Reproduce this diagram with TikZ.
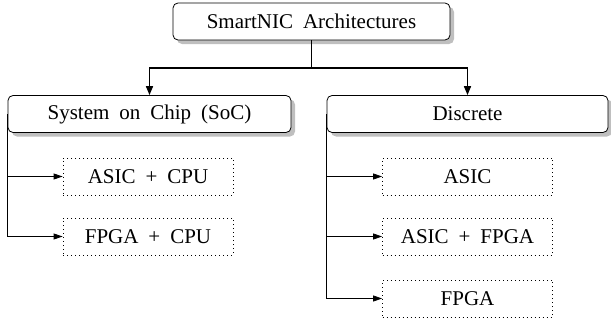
\documentclass[tikz,border=0pt]{standalone}
\usepackage{fontspec}
\setmainfont{Liberation Serif}[WordSpace=1.9]
\usetikzlibrary{shadows,arrows.meta}
\begin{document}
\begin{tikzpicture}[x=1pt,y=-1pt,
  catbox/.style={draw, rounded corners=5pt, fill=white, line width=0.8pt,
    drop shadow={shadow xshift=4pt, shadow yshift=-4pt, fill=black!25, opacity=1},
    minimum height=37pt, inner sep=0pt, font=\fontsize{21}{25}\selectfont},
  leafbox/.style={draw, line width=0.8pt, dash pattern=on 0.8pt off 3.2pt,
    minimum width=170pt, minimum height=37pt,
    inner sep=0pt, font=\fontsize{21}{25}\selectfont},
  treeline/.style={line width=1.6pt, -{Triangle[length=9pt,width=7pt]}},
  subline/.style={line width=0.8pt, -{Triangle[length=9pt,width=6pt]}}]
\useasboundingbox (0,0) rectangle (611,324);
\node[catbox, minimum width=277pt] (top) at (311.5,21.5) {SmartNIC Architectures};
\node[catbox, minimum width=283pt] (soc) at (149.5,114) {System on Chip (SoC)};
\node[catbox, minimum width=281pt] (disc) at (467.5,114) {Discrete};
\node[leafbox] (asiccpu) at (148,176.5) {ASIC + CPU};
\node[leafbox] (fpgacpu) at (148,236.5) {FPGA + CPU};
\node[leafbox] (asic) at (467.5,176.5) {ASIC};
\node[leafbox] (asicfpga) at (467.5,236.5) {ASIC + FPGA};
\node[leafbox] (fpga) at (467.5,298.5) {FPGA};
\coordinate (j) at (311.5,68);
\draw[line width=1.6pt] (top.south) -- (j);
\draw[treeline] (j) -| (soc.north);
\draw[treeline] (j) -| (disc.north);
\draw[subline] (soc.west) |- (asiccpu.west);
\draw[subline] (soc.west) |- (fpgacpu.west);
\draw[subline] (disc.west) |- (asic.west);
\draw[subline] (disc.west) |- (asicfpga.west);
\draw[subline] (disc.west) |- (fpga.west);
\end{tikzpicture}
\end{document}
